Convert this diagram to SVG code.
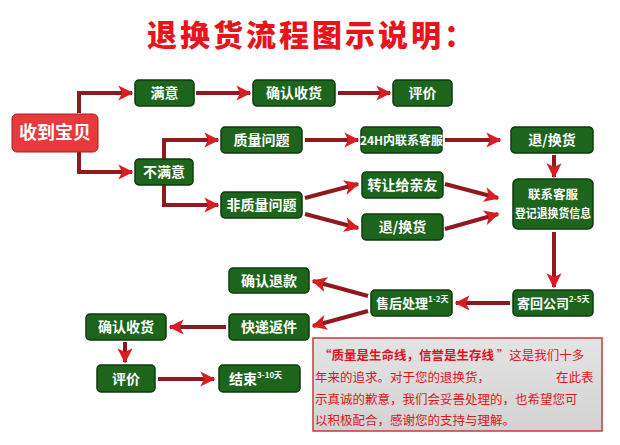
<svg xmlns="http://www.w3.org/2000/svg" width="620" height="445" viewBox="0 0 620 445">
<style>
.n rect{fill:#1d651d;stroke:#0c3a0c;stroke-width:1.5}
.n text{fill:#fff;font-family:"Noto Sans CJK SC",sans-serif;font-size:14px;font-weight:700;text-anchor:middle}
.n text.l{text-anchor:start;font-size:13px}
.n tspan.s{font-size:8px}
.c path{fill:none;stroke:#8e1a1e;stroke-width:4;marker-end:url(#ah)}
.note{font-family:"Noto Sans CJK SC",sans-serif;font-size:12.5px;fill:#e0141c}
</style>
<defs>
<marker id="ah" viewBox="0 0 10 10" refX="9" refY="5" markerWidth="5" markerHeight="3.8" orient="auto" markerUnits="strokeWidth">
<path d="M0,0 L10,5 L0,10 L2.5,5 Z" fill="#d81e24"/>
</marker>
<linearGradient id="gb" x1="0" y1="0" x2="0" y2="1"><stop offset="0" stop-color="#e4e4e4"/><stop offset="1" stop-color="#d2d2d2"/></linearGradient>
</defs>
<rect width="620" height="445" fill="#fff"/>
<text x="312" y="46" text-anchor="middle" font-family="Noto Sans CJK SC,sans-serif" font-weight="900" font-size="30" letter-spacing="3" fill="#e8141c">退换货流程图示说明：</text>

<g class="c">
<path d="M79,113 V93 H132"/>
<path d="M79,152 V172 H132"/>
<path d="M196,93 H250"/>
<path d="M338,93 H390"/>
<path d="M164,159 V140 H218"/>
<path d="M164,185 V205 H218"/>
<path d="M305,140 H358"/>
<path d="M445,140 H500"/>
<path d="M305,198 L358,184"/>
<path d="M305,214 L358,228"/>
<path d="M445,184 L498,198"/>
<path d="M445,229 L498,214"/>
<path d="M554,155 V177"/>
<path d="M554,232 V287"/>
<path d="M510,303 H456"/>
<path d="M368,296 L313,281"/>
<path d="M368,311 L313,326"/>
<path d="M226,327 H170"/>
<path d="M125,342 V362"/>
<path d="M158,379 H214"/>
</g>

<g id="n-received"><rect x="12" y="114" width="86" height="38" rx="5" style="fill:#e63a3c;stroke:#a81c1f"/><text x="55" y="139" style="fill:#fff;font-family:'Noto Sans CJK SC',sans-serif;font-size:18px;font-weight:700;text-anchor:middle">收到宝贝</text></g>
<g id="n-satisfied" class="n"><rect x="135" y="80" width="59" height="26" rx="4"/><text x="164.5" y="98">满意</text></g>
<g id="n-confirm1" class="n"><rect x="253" y="80" width="82" height="26" rx="4"/><text x="294" y="98">确认收货</text></g>
<g id="n-rate1" class="n"><rect x="393" y="80" width="59" height="26" rx="4"/><text x="422.5" y="98">评价</text></g>
<g id="n-unsatisfied" class="n"><rect x="135" y="159" width="58" height="26" rx="4"/><text x="164" y="177">不满意</text></g>
<g id="n-quality" class="n"><rect x="221" y="127" width="81" height="26" rx="4"/><text x="261.5" y="145">质量问题</text></g>
<g id="n-nonquality" class="n"><rect x="221" y="192" width="81" height="26" rx="4"/><text x="261.5" y="210">非质量问题</text></g>
<g id="n-24h" class="n"><rect x="361" y="127" width="81" height="26" rx="4"/><text x="401.5" y="145" style="font-size:12px">24H内联系客服</text></g>
<g id="n-return1" class="n"><rect x="511" y="127" width="82" height="26" rx="4"/><text x="552" y="145">退/换货</text></g>
<g id="n-transfer" class="n"><rect x="362" y="172" width="81" height="26" rx="4"/><text x="402.5" y="190">转让给亲友</text></g>
<g id="n-return2" class="n"><rect x="362" y="214" width="81" height="26" rx="4"/><text x="402.5" y="232">退/换货</text></g>
<g id="n-contact" class="n"><rect x="513" y="179" width="80" height="50" rx="5"/><text x="553" y="199" style="font-size:12px" textLength="50" lengthAdjust="spacingAndGlyphs">联系客服</text><text x="553" y="218" style="font-size:12px" textLength="76" lengthAdjust="spacingAndGlyphs">登记退换货信息</text></g>
<g id="n-send" class="n"><rect x="513" y="290" width="80" height="26" rx="4"/><text class="l" x="517" y="308">寄回公司<tspan class="s" dy="-6">2-5天</tspan></text></g>
<g id="n-after" class="n"><rect x="371" y="290" width="81" height="26" rx="4"/><text class="l" x="376" y="308">售后处理<tspan class="s" dy="-6">1-2天</tspan></text></g>
<g id="n-refund" class="n"><rect x="229" y="268" width="80" height="25" rx="4"/><text x="269" y="286">确认退款</text></g>
<g id="n-express" class="n"><rect x="229" y="314" width="80" height="26" rx="4"/><text x="269" y="332">快递返件</text></g>
<g id="n-confirm2" class="n"><rect x="86" y="314" width="80" height="26" rx="4"/><text x="126" y="332">确认收货</text></g>
<g id="n-rate2" class="n"><rect x="97" y="365" width="58" height="27" rx="4"/><text x="126" y="384">评价</text></g>
<g id="n-end" class="n"><rect x="219" y="365" width="81" height="27" rx="4"/><text class="l" x="229" y="384" style="font-size:14px">结束<tspan class="s" dy="-6">3-10天</tspan></text></g>

<g id="note">
<rect x="313" y="338" width="289" height="93" fill="url(#gb)" stroke="#c8383c" stroke-width="1.5"/>
<text class="note" x="319" y="360"><tspan font-weight="700">“质量是生命线，信誉是生存线 </tspan>”这是我们十多</text>
<text class="note" x="315" y="382">年来的追求。对于您的退换货，<tspan x="556">在此表</tspan></text>
<text class="note" x="315" y="404">示真诚的歉意，我们会妥善处理的，也希望您可</text>
<text class="note" x="315" y="425">以积极配合，感谢您的支持与理解。</text>
</g>
</svg>
